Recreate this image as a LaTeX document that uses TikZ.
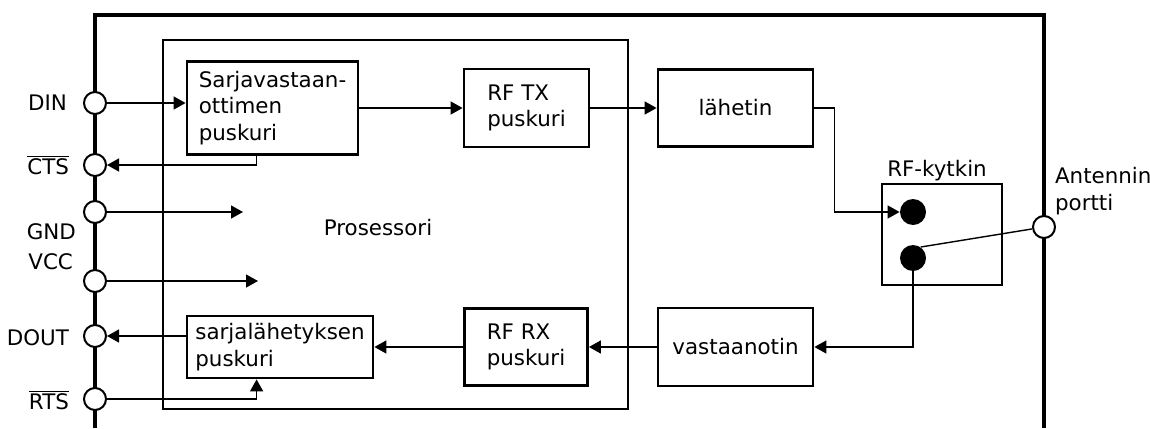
\documentclass[tikz,border=0pt]{standalone}
\usepackage{fontspec}
\setmainfont{DejaVu Sans}
\usetikzlibrary{positioning, arrows.meta, calc}

\begin{document}
\begin{tikzpicture}[x=0.5pt, y=-0.5pt,
        font=\fontsize{10.7}{13.3}\selectfont,
        frame/.style={line width=1.6pt},
        box/.style={draw, line width=1.4pt, align=left, inner sep=0pt},
        conn/.style={line width=0.7pt, -{Triangle[length=6pt, width=6.5pt]}},
        pinc/.style={circle, draw, fill=white, line width=1pt, minimum size=11pt, inner sep=0pt},
        dot/.style={circle, fill=black, minimum size=13pt, inner sep=0pt}]
    \useasboundingbox (0,0) rectangle (1150,428);
    % module frame, open at the bottom
    \draw[frame] (95,428) -- (95,15) -- (1044,15) -- (1044,428);
    \draw[line width=1.4pt] (163,40) rectangle (628,409);
    \node (prosessori) at (378,228) {Prosessori};
    % blocks
    \node[box, minimum width=85.5pt, minimum height=46.5pt] (srx) at (272.5,108) {Sarjavastaan-\\ottimen\\puskuri};
    \node[box, minimum width=62.5pt, minimum height=39pt] (rftx) at (526.5,108) {RF TX\\puskuri};
    \node[box, minimum width=77.5pt, minimum height=38.5pt] (tx) at (735.5,108) {lähetin};
    \node[box, minimum width=60pt, minimum height=50.5pt] (sw) at (942,234.5) {};
    \node (swlabel) at (937,171) {RF-kytkin};
    \node[dot] (d1) at (913,212) {};
    \node[dot] (d2) at (913,258) {};
    \node[box, minimum width=77.5pt, minimum height=39pt] (rx) at (735.5,347) {vastaanotin};
    \node[box, minimum width=61.5pt, minimum height=38.5pt] (rfrx) at (526,347) {RF RX\\puskuri};
    \node[box, minimum width=93pt, minimum height=31pt] (stx) at (280,347) {sarjalähetyksen\\puskuri};
    % pins
    \node[pinc] (pDIN) at (95,103) {};
    \node[pinc] (pCTS) at (95,165) {};
    \node[pinc] (pGND) at (95,212) {};
    \node[pinc] (pVCC) at (95,281) {};
    \node[pinc] (pDOUT) at (95,336) {};
    \node[pinc] (pRTS) at (95,399) {};
    \node[pinc] (pANT) at (1044,227) {};
    \node[anchor=east] (lDIN) at (74,103) {DIN};
    \node[anchor=east] (lCTS) at (76,165) {$\overline{\mbox{CTS}}$};
    \node[anchor=east] (lGND) at (83,232) {GND};
    \node[anchor=east] (lVCC) at (80,262) {VCC};
    \node[anchor=east] (lDOUT) at (76,338) {DOUT};
    \node[anchor=east] (lRTS) at (76,400) {$\overline{\mbox{RTS}}$};
    \node[anchor=west, align=left] (lANT) at (1048,191) {Antennin\\portti};
    \coordinate (gndend) at (243,212);
    \coordinate (vccend) at (258,281);
    % connections
    \draw[conn] (pDIN) -- (pDIN -| srx.west);
    \draw[conn] ($(srx.south west)+(71,0)$) |- (pCTS);
    \draw[conn] (pGND) -- (gndend);
    \draw[conn] (pVCC) -- (vccend);
    \draw[conn] (stx.west |- pDOUT) -- (pDOUT);
    \draw[conn] (pRTS) -| ($(stx.south west)+(71,0)$);
    \draw[conn] (srx.east) -- (rftx.west);
    \draw[conn] (rftx.east) -- (tx.west);
    \draw[conn] (tx.east) -- ++(20,0) |- (d1);
    \draw[conn] (d2) |- (rx.east);
    \draw[conn] (rx.west) -- (rfrx.east);
    \draw[conn] (rfrx.west) -- (stx.east);
    \draw[line width=0.7pt] (pANT) -- (d2.55);
\end{tikzpicture}
\end{document}
